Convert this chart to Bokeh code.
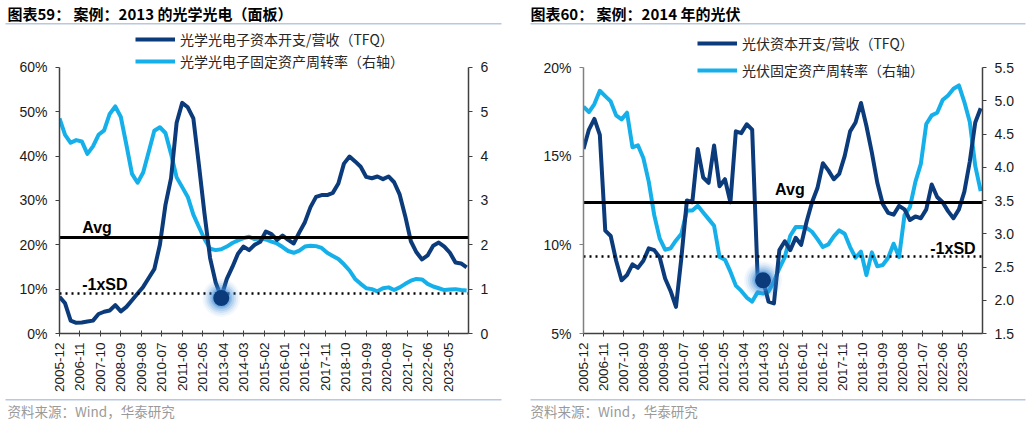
import math
from bokeh.plotting import figure
from bokeh.layouts import row, column
from bokeh.models import (Range1d, LinearAxis, FixedTicker, PrintfTickFormatter,
                          Label, BoxAnnotation, Legend, LegendItem)
from bokeh.embed import file_html
from bokeh.resources import INLINE

# ---------------- data ----------------
quarters = [f"{y}-{m:02d}" for y in range(2005, 2025) for m in (3, 6, 9, 12)
            if "2005-12" <= f"{y}-{m:02d}" <= "2024-03"]

tick_labels = ["2005-12", "2006-11", "2007-10", "2008-09", "2009-08", "2010-07",
               "2011-06", "2012-05", "2013-04", "2014-03", "2015-02", "2016-01",
               "2016-12", "2017-11", "2018-10", "2019-09", "2020-08", "2021-07",
               "2022-06", "2023-05"]

# Panel 59: optoelectronics (panel)
opto_capex_ratio = [8.3, 6.8, 2.9, 2.4, 2.5, 2.7, 2.9, 4.4, 4.9, 5.2,
                    6.4, 5.0, 6.0, 7.5, 9.0, 10.5, 12.5, 14.5, 20.0, 29.0,
                    35.0, 47.5, 52.0, 51.0, 48.5, 38.0, 27.0, 17.0, 11.5, 8.2,
                    12.3, 15.0, 18.0, 19.6, 18.8, 20.0, 20.7, 23.0, 22.4, 21.1,
                    22.1, 21.1, 20.3, 22.8, 25.1, 28.5, 30.8, 31.2, 31.2, 31.7,
                    33.8, 38.3, 39.9, 38.8, 37.6, 35.3, 35.0, 35.4, 34.8, 35.4,
                    34.1, 31.3, 26.4, 20.8, 18.3, 16.7, 17.6, 19.8, 20.5, 19.6,
                    18.2, 16.0, 15.8, 14.9]
opto_turnover = [4.85, 4.48, 4.30, 4.36, 4.33, 4.05, 4.22, 4.48, 4.58, 4.95,
                 5.12, 4.88, 4.25, 3.60, 3.40, 3.63, 4.10, 4.57, 4.65, 4.52,
                 4.05, 3.52, 3.30, 3.08, 2.68, 2.40, 2.13, 1.91, 1.88, 1.90,
                 1.96, 2.04, 2.10, 2.15, 2.18, 2.13, 2.14, 2.12, 2.07, 2.03,
                 1.95, 1.86, 1.82, 1.87, 1.96, 1.98, 1.97, 1.93, 1.82, 1.75,
                 1.68, 1.56, 1.42, 1.23, 1.12, 1.02, 1.00, 0.95, 1.02, 1.04,
                 0.98, 1.04, 1.12, 1.19, 1.23, 1.22, 1.12, 1.06, 1.02, 0.98,
                 0.99, 1.00, 0.98, 0.97]
opto_avg = 21.7
opto_minus_sd = 9.1
opto_marker_date = "2013-03"
opto_marker_value = 8.0

# Panel 60: photovoltaics
pv_capex_ratio = [15.4, 16.5, 17.1, 16.2, 10.8, 10.5, 9.1, 8.0, 8.3, 8.9,
                  8.7, 9.1, 9.8, 9.7, 9.3, 8.1, 7.4, 6.5, 9.3, 12.5,
                  12.4, 15.4, 13.8, 13.5, 15.6, 13.3, 13.7, 12.4, 16.4, 16.3,
                  16.8, 16.5, 8.2, 8.0, 6.8, 6.7, 9.7, 10.2, 9.7, 10.4,
                  10.0, 11.3, 12.4, 13.2, 14.6, 14.2, 13.7, 14.0, 15.0, 16.4,
                  16.9, 18.0, 16.7, 15.2, 13.5, 12.3, 11.8, 11.7, 12.2, 12.0,
                  11.4, 11.6, 11.5, 12.0, 13.4, 12.7, 12.4, 11.9, 11.5, 12.0,
                  13.0, 14.7, 16.9, 17.7]
pv_turnover = [4.91, 4.83, 4.95, 5.15, 5.07, 4.99, 4.78, 4.72, 4.82, 4.30,
               4.33, 4.14, 3.78, 3.28, 2.93, 2.76, 2.78, 2.90, 3.00, 3.35,
               3.35, 3.42, 3.32, 3.22, 3.12, 2.65, 2.61, 2.43, 2.22, 2.14,
               2.04, 1.98, 2.12, 2.10, 2.13, 2.28, 2.48, 2.65, 2.97, 3.10,
               3.10, 3.09, 3.03, 2.92, 2.80, 2.84, 2.96, 3.05, 3.00, 2.80,
               2.64, 2.73, 2.38, 2.72, 2.51, 2.53, 2.64, 2.85, 2.65, 3.28,
               3.40, 3.78, 4.05, 4.65, 4.78, 4.82, 5.01, 5.08, 5.18, 5.23,
               4.98, 4.68, 4.02, 3.64]
pv_avg = 12.4
pv_minus_sd = 9.35
pv_marker_date = "2014-03"
pv_marker_value = 8.0

titles = ["图表59： 案例：2013 的光学光电（面板）", "图表60： 案例：2014 年的光伏"]
source = "资料来源：Wind，华泰研究"

DARK = "#0B3B7B"
LIGHT = "#15B0EA"
GLOW = "#3C8DD8"
SEP = "#B7C9DD"
CJK = "Noto Sans CJK SC"
LATIN = "Liberation Sans"

W = 1030
HEAD_H = 27
MAIN_H = 370
FOOT_H = 26


def midx(s):
    y, m = map(int, s.split("-"))
    return (y - 2005) * 12 + m - 12


xs = [midx(q) for q in quarters]


def style_axis(ax, color, size):
    ax.minor_tick_line_color = None
    ax.axis_line_color = color
    ax.major_tick_line_color = color
    ax.axis_line_width = 1.5
    ax.major_label_text_font = LATIN
    ax.major_label_text_font_size = size
    ax.major_label_text_color = "#1a1a1a"


def make_panel(dark_vals, light_vals, dark_name, light_name,
               yl, yl_top, yl_ticks, yl_fmt, yr, yr_top, yr_ticks, yr_fmt,
               avg, sd, mdate, mval, avg_x, sd_x, sd_align, avg_off, sd_off,
               borders, legend_loc, legend_spacing, left_axis_color):
    bl, br, bb = borders
    p = figure(width=515, height=MAIN_H, x_range=Range1d(0, 220),
               y_range=Range1d(yl[0], yl_top), output_backend="svg",
               toolbar_location=None, min_border_left=bl, min_border_right=br,
               min_border_top=0, min_border_bottom=bb, title=None)
    p.grid.visible = False
    p.outline_line_color = None
    p.background_fill_color = "white"
    p.border_fill_color = "white"
    p.extra_y_ranges = {"r": Range1d(yr[0], yr_top)}

    # x axis
    xa = p.xaxis[0]
    xa.ticker = FixedTicker(ticks=[midx(t) for t in tick_labels])
    xa.major_label_overrides = {midx(t): t for t in tick_labels}
    xa.major_label_orientation = math.pi / 2
    xa.major_tick_in = 3
    xa.major_tick_out = 3
    xa.major_label_standoff = 6
    style_axis(xa, "#404040", "13.5px")

    # left y axis (line limited to the value range)
    ya = p.yaxis[0]
    ya.ticker = FixedTicker(ticks=yl_ticks)
    ya.formatter = PrintfTickFormatter(format=yl_fmt)
    ya.bounds = yl
    ya.major_tick_in = 0
    ya.major_tick_out = 4
    ya.major_label_standoff = 8
    style_axis(ya, left_axis_color, "14px")

    # right y axis
    ra = LinearAxis(y_range_name="r", ticker=FixedTicker(ticks=yr_ticks),
                    formatter=PrintfTickFormatter(format=yr_fmt), bounds=yr)
    ra.major_tick_in = 0
    ra.major_tick_out = 4
    ra.major_label_standoff = 8
    style_axis(ra, "#404040", "14px")
    p.add_layout(ra, "right")

    # series
    r_light = p.line(xs, light_vals, y_range_name="r", line_color=LIGHT,
                     line_width=4, line_join="round")
    r_dark = p.line(xs, dark_vals, line_color=DARK, line_width=4,
                    line_join="round")

    # reference lines
    p.hspan(y=[avg], line_color="black", line_width=3)
    p.hspan(y=[sd], line_color="black", line_width=2.5, line_dash="2 4")

    # highlighted trough with glow
    mx = [midx(mdate)]
    my = [mval]
    for s, a in [(38, 0.06), (34, 0.09), (30, 0.13), (26, 0.18), (22, 0.26),
                 (19, 0.35)]:
        p.scatter(mx, my, size=s, fill_color=GLOW, fill_alpha=a,
                  line_color=None)
    p.scatter(mx, my, size=16, fill_color=DARK, line_color=None)

    # Avg / -1xSD labels
    p.add_layout(Label(x=avg_x, y=avg, text="Avg", y_offset=avg_off,
                       text_font=LATIN, text_font_style="bold",
                       text_font_size="16px", text_baseline="alphabetic",
                       text_color="black"))
    p.add_layout(Label(x=sd_x, y=sd, text="-1xSD", y_offset=sd_off,
                       text_font=LATIN, text_font_style="bold",
                       text_font_size="16px", text_baseline="alphabetic",
                       text_align=sd_align, text_color="black"))

    # legend (inside the frame, above the value area)
    legend = Legend(items=[LegendItem(label=dark_name, renderers=[r_dark]),
                           LegendItem(label=light_name, renderers=[r_light])],
                    location=legend_loc, orientation="vertical",
                    glyph_width=40, glyph_height=20, label_height=20,
                    spacing=legend_spacing, padding=0, margin=0,
                    label_standoff=5, border_line_color=None,
                    background_fill_alpha=0, label_text_font=CJK,
                    label_text_font_size="14px", label_text_color="#262626")
    p.add_layout(legend, "center")
    return p


def strip(height, text_items, sep_y, text_color, bold, size):
    s = figure(width=W, height=height, x_range=Range1d(0, W),
               y_range=Range1d(height, 0), output_backend="svg",
               toolbar_location=None, x_axis_location=None,
               y_axis_location=None, min_border=0, title=None)
    s.grid.visible = False
    s.outline_line_color = None
    s.background_fill_color = "white"
    s.border_fill_color = "white"
    for (x0, x1) in [(5, 501), (530, 1025)]:
        s.add_layout(BoxAnnotation(left=x0, right=x1, top=sep_y,
                                   bottom=sep_y + 1.6, fill_color=SEP,
                                   fill_alpha=1, line_color=None))
    for (tx, ty, txt) in text_items:
        s.add_layout(Label(x=tx, y=ty, text=txt, text_font=CJK,
                           text_font_style="bold" if bold else "normal",
                           text_font_size=size, text_baseline="middle",
                           text_color=text_color))
    return s


# frame top sits at the top of the main strip; value area starts 40 px lower
p1 = make_panel(opto_capex_ratio, opto_turnover,
                "光学光电子资本开支/营收（TFQ）", "光学光电子固定资产周转率（右轴）",
                (0, 60), 60 * 307 / 267, [0, 10, 20, 30, 40, 50, 60], "%d%%",
                (0, 6), 6 * 307 / 267, [0, 1, 2, 3, 4, 5, 6], "%d",
                opto_avg, opto_minus_sd, opto_marker_date, opto_marker_value,
                12.2, 12.2, "left", 10, 9,
                (59, 47, MAIN_H - 307), (76, 262), 2, "#404040")

p2 = make_panel(pv_capex_ratio, pv_turnover,
                "光伏资本开支/营收（TFQ）", "光伏固定资产周转率（右轴）",
                (5, 20), 5 + 15 * 306 / 266, [5, 10, 15, 20], "%d%%",
                (1.5, 5.5), 1.5 + 4 * 306 / 266,
                [1.5, 2.0, 2.5, 3.0, 3.5, 4.0, 4.5, 5.0, 5.5], "%.1f",
                pv_avg, pv_minus_sd, pv_marker_date, pv_marker_value,
                105.6, 216.2, "right", 13, 8,
                (68, 48, MAIN_H - 306), (114, 253), 7, "#808080")

header = strip(HEAD_H, [(7, 13, titles[0]), (530, 13, titles[1])], 22.5,
               "black", True, "15px")
footer = strip(FOOT_H, [(7, 13, source), (530, 13, source)], 1.5,
               "#9A9A9A", False, "13.5px")

layout = column(header, row(p1, p2), footer)
open("out.html", "w").write(file_html(layout, INLINE))
